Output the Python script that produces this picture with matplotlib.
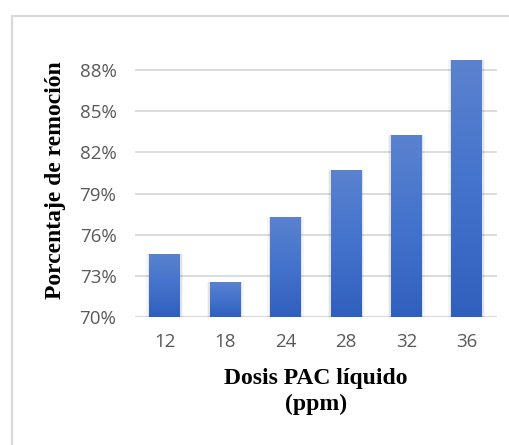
import numpy as np
import matplotlib.pyplot as plt
from matplotlib.colors import LinearSegmentedColormap
from matplotlib.patches import Rectangle
from matplotlib.ticker import FuncFormatter

dosis = ["12", "18", "24", "28", "32", "36"]
remocion = [74.6, 72.6, 77.3, 80.7, 83.3, 88.7]
yticks = [70, 73, 76, 79, 82, 85, 88]

fig = plt.figure(figsize=(5.10, 4.45), dpi=100)

# light grey chart-area frame (only left/top edges are visible)
fig.patches.append(Rectangle((12 / 510, -0.1), 1.2, (445 - 16) / 445 + 0.1,
                             transform=fig.transFigure, fill=False,
                             edgecolor="#d9d9d9", linewidth=1.6))

ax = fig.add_axes([134.5 / 510, 1 - 317.3 / 445, (497 - 134.5) / 510, 260 / 445])

for s in ax.spines.values():
    s.set_visible(False)
ax.set_yticks(yticks)
ax.yaxis.grid(True, color="#d9d9d9", linewidth=1.3)
ax.set_axisbelow(True)
ax.axhline(70, color="#d9d9d9", linewidth=1.6, zorder=1)
ax.tick_params(length=0, labelsize=13.5, labelcolor="#595959")
ax.tick_params(axis="y", pad=13)
ax.tick_params(axis="x", pad=11)
ax.yaxis.set_major_formatter(FuncFormatter(lambda v, p: f"{v:.0f}%"))

cmap = LinearSegmentedColormap.from_list("azul", ["#3060bd", "#4373cc", "#5b82cf"])
grad = np.linspace(0, 1, 256).reshape(-1, 1)
x = np.arange(len(dosis))
bars = ax.bar(x, remocion, width=0.51, bottom=0, color="none", zorder=2)
for b, v in zip(bars, remocion):
    x0 = b.get_x()
    # soft shadow around each bar
    for k, a in [(0.05, 0.04), (0.025, 0.07)]:
        ax.add_patch(Rectangle((x0 - k, 70), b.get_width() + 2 * k, v - 70,
                               facecolor="#000000", alpha=a, linewidth=0, zorder=2))
    im = ax.imshow(grad, cmap=cmap, aspect="auto", origin="lower",
                   extent=[x0, x0 + b.get_width(), 70, v], zorder=3)
    clip = Rectangle((x0, 70), b.get_width(), v - 70, transform=ax.transData)
    im.set_clip_path(clip)
ax.set_xlim(-0.5, len(dosis) - 0.5)
ax.set_ylim(70, 70 + 260 / 247.3 * 18)
ax.set_xticks(x, dosis)
for lab in ax.get_xticklabels() + ax.get_yticklabels():
    lab.set_fontfamily("Open Sans")

fig.text(316 / 510, 1 - 391.5 / 445, "Dosis PAC líquido\n(ppm)", ha="center",
         va="center", fontfamily="Liberation Serif", fontweight="bold",
         fontsize=17, linespacing=1.3)
fig.text(56 / 510, 1 - 180 / 445, "Porcentaje de remoción", rotation=90,
         ha="center", va="center", fontfamily="Liberation Serif",
         fontweight="bold", fontsize=17)

fig.savefig("out.png", dpi=100)
